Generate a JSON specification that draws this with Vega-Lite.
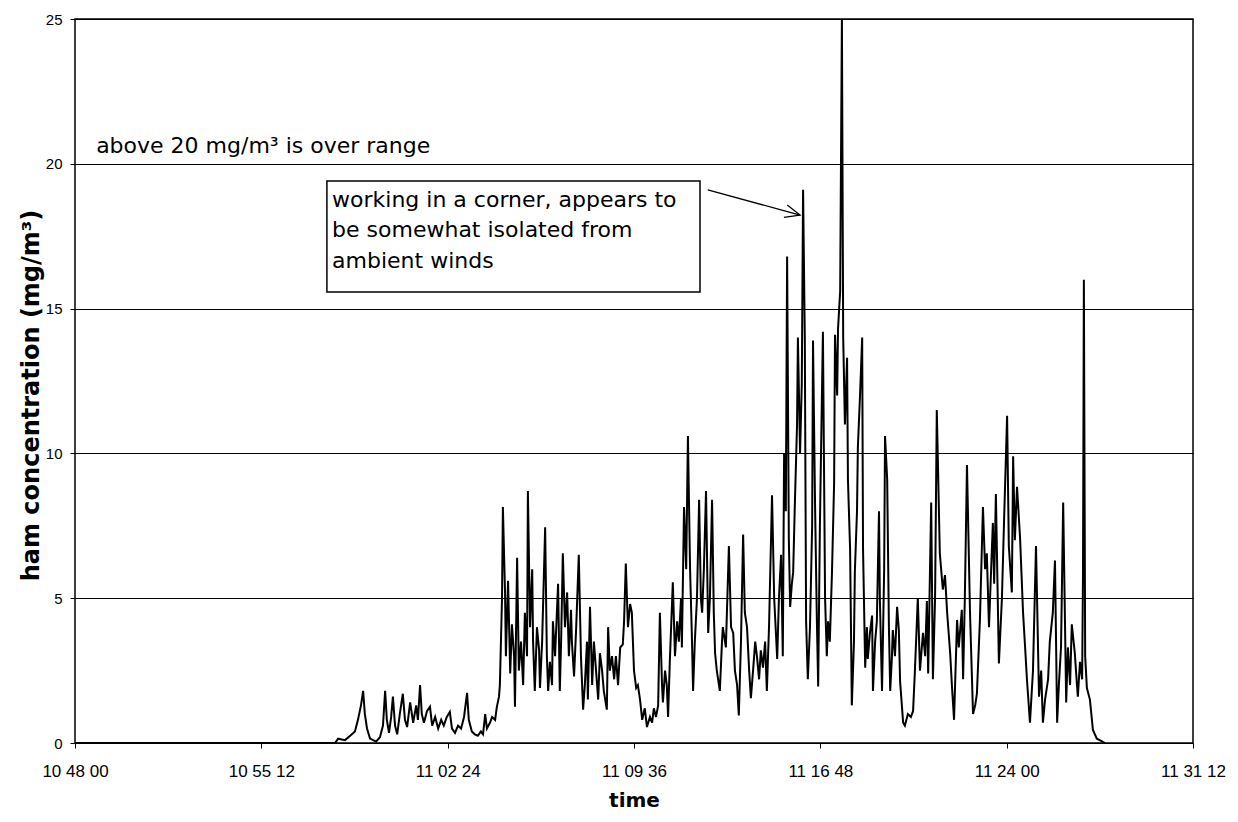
{
  "$schema": "https://vega.github.io/schema/vega-lite/v6.json",
  "width": 1118,
  "height": 724,
  "autosize": {"type": "none"},
  "padding": {"left": 75, "top": 19, "right": 45, "bottom": 79},
  "background": "white",
  "config": {
    "view": {"stroke": "black", "strokeWidth": 1.5},
    "axis": {
      "labelFont": "Liberation Sans",
      "labelColor": "black",
      "titleFont": "DejaVu Sans",
      "titleFontWeight": "bold",
      "titleColor": "black",
      "tickColor": "black",
      "domain": false,
      "labelFlush": false,
      "labelOverlap": false
    }
  },
  "datasets": {
    "readings": [
      {"seconds":0,"mg":0},{"seconds":603,"mg":0},{"seconds":610,"mg":0.15},{"seconds":626,"mg":0.1},{"seconds":638,"mg":0.25},
      {"seconds":649,"mg":0.4},{"seconds":656,"mg":0.8},{"seconds":663,"mg":1.3},{"seconds":668,"mg":1.8},{"seconds":672,"mg":1.0},
      {"seconds":677,"mg":0.5},{"seconds":684,"mg":0.15},{"seconds":698,"mg":0.05},{"seconds":707,"mg":0.2},{"seconds":714,"mg":0.6},
      {"seconds":719,"mg":1.8},{"seconds":723,"mg":0.8},{"seconds":728,"mg":0.35},{"seconds":733,"mg":0.9},{"seconds":737,"mg":1.6},
      {"seconds":742,"mg":0.6},{"seconds":747,"mg":0.3},{"seconds":753,"mg":1.0},{"seconds":760,"mg":1.7},{"seconds":765,"mg":0.8},
      {"seconds":770,"mg":0.55},{"seconds":777,"mg":1.4},{"seconds":784,"mg":0.7},{"seconds":791,"mg":1.3},{"seconds":795,"mg":0.8},
      {"seconds":800,"mg":2.0},{"seconds":804,"mg":1.0},{"seconds":809,"mg":0.7},{"seconds":816,"mg":1.1},{"seconds":823,"mg":1.25},
      {"seconds":828,"mg":0.6},{"seconds":835,"mg":0.9},{"seconds":842,"mg":0.5},{"seconds":849,"mg":0.8},{"seconds":855,"mg":0.6},
      {"seconds":862,"mg":0.9},{"seconds":869,"mg":1.07},{"seconds":874,"mg":0.5},{"seconds":881,"mg":0.35},{"seconds":888,"mg":0.6},
      {"seconds":895,"mg":0.5},{"seconds":902,"mg":0.9},{"seconds":909,"mg":1.73},{"seconds":913,"mg":0.8},{"seconds":920,"mg":0.4},
      {"seconds":927,"mg":0.3},{"seconds":934,"mg":0.25},{"seconds":941,"mg":0.4},{"seconds":946,"mg":0.3},{"seconds":951,"mg":1.0},
      {"seconds":955,"mg":0.5},{"seconds":962,"mg":0.7},{"seconds":967,"mg":0.9},{"seconds":974,"mg":0.8},{"seconds":978,"mg":1.25},
      {"seconds":983,"mg":1.6},{"seconds":985,"mg":2.0},{"seconds":990,"mg":5.0},{"seconds":992,"mg":8.15},{"seconds":997,"mg":5.2},
      {"seconds":999,"mg":3.0},{"seconds":1004,"mg":5.6},{"seconds":1009,"mg":2.4},{"seconds":1013,"mg":4.1},{"seconds":1018,"mg":3.0},
      {"seconds":1020,"mg":1.25},{"seconds":1025,"mg":6.4},{"seconds":1029,"mg":2.5},{"seconds":1034,"mg":3.5},{"seconds":1039,"mg":2.0},
      {"seconds":1043,"mg":4.5},{"seconds":1048,"mg":3.0},{"seconds":1050,"mg":8.7},{"seconds":1055,"mg":4.0},{"seconds":1060,"mg":6.0},
      {"seconds":1062,"mg":3.5},{"seconds":1066,"mg":1.8},{"seconds":1071,"mg":4.0},{"seconds":1076,"mg":3.2},{"seconds":1078,"mg":1.9},
      {"seconds":1083,"mg":3.5},{"seconds":1090,"mg":7.45},{"seconds":1094,"mg":3.0},{"seconds":1097,"mg":1.8},{"seconds":1101,"mg":2.8},
      {"seconds":1106,"mg":2.0},{"seconds":1108,"mg":4.2},{"seconds":1113,"mg":3.0},{"seconds":1120,"mg":5.5},{"seconds":1124,"mg":1.8},
      {"seconds":1127,"mg":3.5},{"seconds":1131,"mg":6.55},{"seconds":1136,"mg":4.0},{"seconds":1141,"mg":5.2},{"seconds":1145,"mg":3.0},
      {"seconds":1150,"mg":4.6},{"seconds":1152,"mg":3.5},{"seconds":1157,"mg":2.3},{"seconds":1162,"mg":4.0},{"seconds":1168,"mg":6.5},
      {"seconds":1173,"mg":3.0},{"seconds":1178,"mg":1.15},{"seconds":1182,"mg":2.0},{"seconds":1187,"mg":3.5},{"seconds":1189,"mg":1.5},
      {"seconds":1194,"mg":4.7},{"seconds":1199,"mg":2.0},{"seconds":1203,"mg":3.5},{"seconds":1208,"mg":2.5},{"seconds":1213,"mg":1.5},
      {"seconds":1217,"mg":3.1},{"seconds":1222,"mg":2.5},{"seconds":1226,"mg":1.8},{"seconds":1233,"mg":1.15},{"seconds":1236,"mg":4.0},
      {"seconds":1240,"mg":2.5},{"seconds":1245,"mg":3.0},{"seconds":1250,"mg":2.2},{"seconds":1254,"mg":3.0},{"seconds":1259,"mg":2.0},
      {"seconds":1264,"mg":3.3},{"seconds":1270,"mg":3.4},{"seconds":1273,"mg":4.2},{"seconds":1277,"mg":6.2},{"seconds":1282,"mg":4.0},
      {"seconds":1287,"mg":4.8},{"seconds":1291,"mg":4.5},{"seconds":1296,"mg":2.5},{"seconds":1301,"mg":1.9},{"seconds":1305,"mg":2.0},
      {"seconds":1310,"mg":1.5},{"seconds":1315,"mg":0.8},{"seconds":1321,"mg":1.2},{"seconds":1326,"mg":0.55},{"seconds":1333,"mg":0.9},
      {"seconds":1338,"mg":0.7},{"seconds":1342,"mg":1.2},{"seconds":1347,"mg":0.9},{"seconds":1352,"mg":1.3},{"seconds":1356,"mg":4.5},
      {"seconds":1361,"mg":2.0},{"seconds":1363,"mg":1.4},{"seconds":1368,"mg":2.5},{"seconds":1372,"mg":2.0},{"seconds":1375,"mg":0.9},
      {"seconds":1379,"mg":2.8},{"seconds":1386,"mg":5.55},{"seconds":1391,"mg":3.0},{"seconds":1396,"mg":4.2},{"seconds":1400,"mg":3.5},
      {"seconds":1405,"mg":5.0},{"seconds":1407,"mg":3.3},{"seconds":1412,"mg":8.15},{"seconds":1417,"mg":6.0},{"seconds":1421,"mg":10.6},
      {"seconds":1426,"mg":6.0},{"seconds":1430,"mg":3.8},{"seconds":1433,"mg":1.8},{"seconds":1437,"mg":3.5},{"seconds":1442,"mg":5.0},
      {"seconds":1447,"mg":8.4},{"seconds":1451,"mg":5.0},{"seconds":1454,"mg":4.5},{"seconds":1458,"mg":6.0},{"seconds":1463,"mg":8.7},
      {"seconds":1468,"mg":3.8},{"seconds":1472,"mg":5.0},{"seconds":1477,"mg":8.4},{"seconds":1481,"mg":4.5},{"seconds":1484,"mg":3.1},
      {"seconds":1488,"mg":2.5},{"seconds":1495,"mg":1.8},{"seconds":1500,"mg":3.5},{"seconds":1502,"mg":4.0},{"seconds":1509,"mg":3.3},
      {"seconds":1516,"mg":6.8},{"seconds":1521,"mg":4.0},{"seconds":1526,"mg":3.8},{"seconds":1530,"mg":2.5},{"seconds":1535,"mg":2.0},
      {"seconds":1539,"mg":0.95},{"seconds":1544,"mg":3.5},{"seconds":1549,"mg":7.2},{"seconds":1553,"mg":4.5},{"seconds":1558,"mg":4.0},
      {"seconds":1563,"mg":2.5},{"seconds":1567,"mg":1.55},{"seconds":1572,"mg":2.5},{"seconds":1577,"mg":3.5},{"seconds":1581,"mg":3.0},
      {"seconds":1586,"mg":2.2},{"seconds":1590,"mg":3.2},{"seconds":1595,"mg":2.6},{"seconds":1600,"mg":3.5},{"seconds":1604,"mg":1.8},
      {"seconds":1609,"mg":4.0},{"seconds":1616,"mg":8.55},{"seconds":1621,"mg":5.0},{"seconds":1628,"mg":2.9},{"seconds":1632,"mg":5.0},
      {"seconds":1637,"mg":6.5},{"seconds":1641,"mg":3.0},{"seconds":1644,"mg":10.0},{"seconds":1648,"mg":8.0},{"seconds":1651,"mg":16.8},
      {"seconds":1655,"mg":7.0},{"seconds":1658,"mg":4.7},{"seconds":1662,"mg":5.5},{"seconds":1665,"mg":5.9},{"seconds":1669,"mg":8.3},
      {"seconds":1674,"mg":11.0},{"seconds":1676,"mg":14.0},{"seconds":1681,"mg":10.0},{"seconds":1685,"mg":12.4},{"seconds":1688,"mg":19.1},
      {"seconds":1692,"mg":14.0},{"seconds":1695,"mg":4.2},{"seconds":1699,"mg":2.2},{"seconds":1704,"mg":4.0},{"seconds":1709,"mg":7.5},
      {"seconds":1711,"mg":13.9},{"seconds":1716,"mg":8.0},{"seconds":1720,"mg":4.2},{"seconds":1723,"mg":1.95},{"seconds":1727,"mg":7.5},
      {"seconds":1734,"mg":14.2},{"seconds":1739,"mg":5.0},{"seconds":1743,"mg":3.0},{"seconds":1746,"mg":4.2},{"seconds":1750,"mg":3.5},
      {"seconds":1755,"mg":5.9},{"seconds":1760,"mg":9.0},{"seconds":1762,"mg":14.1},{"seconds":1767,"mg":12.0},{"seconds":1769,"mg":14.3},
      {"seconds":1774,"mg":15.6},{"seconds":1778,"mg":25.0},{"seconds":1781,"mg":14.0},{"seconds":1785,"mg":11.0},{"seconds":1790,"mg":13.3},
      {"seconds":1792,"mg":9.1},{"seconds":1797,"mg":6.7},{"seconds":1801,"mg":1.3},{"seconds":1806,"mg":3.5},{"seconds":1808,"mg":5.9},
      {"seconds":1813,"mg":8.0},{"seconds":1815,"mg":10.2},{"seconds":1820,"mg":12.0},{"seconds":1825,"mg":14.0},{"seconds":1827,"mg":6.7},
      {"seconds":1832,"mg":2.6},{"seconds":1836,"mg":4.0},{"seconds":1838,"mg":2.9},{"seconds":1843,"mg":3.8},{"seconds":1848,"mg":4.4},
      {"seconds":1850,"mg":1.8},{"seconds":1855,"mg":3.5},{"seconds":1859,"mg":4.2},{"seconds":1864,"mg":8.0},{"seconds":1866,"mg":5.0},
      {"seconds":1871,"mg":1.8},{"seconds":1876,"mg":6.0},{"seconds":1878,"mg":10.6},{"seconds":1883,"mg":9.1},{"seconds":1887,"mg":4.0},
      {"seconds":1890,"mg":1.8},{"seconds":1894,"mg":3.0},{"seconds":1896,"mg":3.9},{"seconds":1901,"mg":3.0},{"seconds":1906,"mg":4.7},
      {"seconds":1910,"mg":3.9},{"seconds":1913,"mg":2.1},{"seconds":1920,"mg":0.7},{"seconds":1924,"mg":0.6},{"seconds":1931,"mg":1.0},
      {"seconds":1938,"mg":0.9},{"seconds":1943,"mg":1.1},{"seconds":1947,"mg":2.4},{"seconds":1954,"mg":5.0},{"seconds":1959,"mg":2.5},
      {"seconds":1966,"mg":3.8},{"seconds":1971,"mg":3.0},{"seconds":1975,"mg":4.9},{"seconds":1978,"mg":2.4},{"seconds":1985,"mg":8.3},
      {"seconds":1989,"mg":2.2},{"seconds":1994,"mg":5.0},{"seconds":1998,"mg":11.5},{"seconds":2005,"mg":6.55},{"seconds":2012,"mg":5.3},
      {"seconds":2017,"mg":5.8},{"seconds":2022,"mg":4.5},{"seconds":2029,"mg":3.1},{"seconds":2033,"mg":2.0},{"seconds":2038,"mg":0.8},
      {"seconds":2045,"mg":4.25},{"seconds":2049,"mg":3.3},{"seconds":2056,"mg":4.6},{"seconds":2059,"mg":2.2},{"seconds":2063,"mg":5.0},
      {"seconds":2068,"mg":9.6},{"seconds":2075,"mg":4.5},{"seconds":2082,"mg":1.0},{"seconds":2087,"mg":1.3},{"seconds":2091,"mg":1.7},
      {"seconds":2098,"mg":4.25},{"seconds":2105,"mg":8.15},{"seconds":2110,"mg":6.0},{"seconds":2114,"mg":6.55},{"seconds":2119,"mg":4.0},
      {"seconds":2124,"mg":6.0},{"seconds":2128,"mg":7.6},{"seconds":2131,"mg":5.5},{"seconds":2135,"mg":8.6},{"seconds":2142,"mg":2.75},
      {"seconds":2149,"mg":5.0},{"seconds":2154,"mg":7.7},{"seconds":2161,"mg":11.3},{"seconds":2165,"mg":6.8},{"seconds":2172,"mg":5.2},
      {"seconds":2175,"mg":9.9},{"seconds":2179,"mg":7.0},{"seconds":2184,"mg":8.85},{"seconds":2191,"mg":7.1},{"seconds":2198,"mg":4.5},
      {"seconds":2202,"mg":3.5},{"seconds":2207,"mg":2.2},{"seconds":2214,"mg":0.7},{"seconds":2221,"mg":2.5},{"seconds":2228,"mg":6.8},
      {"seconds":2235,"mg":1.6},{"seconds":2240,"mg":2.5},{"seconds":2244,"mg":0.7},{"seconds":2249,"mg":1.5},{"seconds":2256,"mg":2.2},
      {"seconds":2260,"mg":3.5},{"seconds":2267,"mg":4.5},{"seconds":2272,"mg":6.3},{"seconds":2277,"mg":0.7},{"seconds":2281,"mg":2.0},
      {"seconds":2286,"mg":3.3},{"seconds":2291,"mg":8.3},{"seconds":2298,"mg":1.4},{"seconds":2302,"mg":3.3},{"seconds":2307,"mg":2.0},
      {"seconds":2311,"mg":4.1},{"seconds":2318,"mg":3.1},{"seconds":2323,"mg":2.0},{"seconds":2325,"mg":1.6},{"seconds":2330,"mg":2.8},
      {"seconds":2335,"mg":2.2},{"seconds":2337,"mg":6.0},{"seconds":2339,"mg":16.0},{"seconds":2342,"mg":3.0},{"seconds":2346,"mg":1.9},
      {"seconds":2353,"mg":1.5},{"seconds":2360,"mg":0.45},{"seconds":2369,"mg":0.15},{"seconds":2376,"mg":0.1},{"seconds":2388,"mg":0}
    ],
    "box": [{"seconds": 584, "mg": 19.41, "seconds2": 1449, "mg2": 15.57}],
    "arrow": [{"seconds": 1467, "mg": 19.1, "seconds2": 1681, "mg2": 18.23}],
    "arrowhead": [{"seconds": 1681, "mg": 18.23}],
    "notes": [
      {"seconds": 49, "mg": 20.36, "label": "above 20 mg/m³ is over range"},
      {"seconds": 596, "mg": 18.52, "label": "working in a corner, appears to"},
      {"seconds": 596, "mg": 17.46, "label": "be somewhat isolated from"},
      {"seconds": 596, "mg": 16.39, "label": "ambient winds"}
    ]
  },
  "layer": [
    {
      "data": {"name": "readings"},
      "mark": {"type": "line", "color": "black", "strokeWidth": 2},
      "encoding": {
        "x": {
          "field": "seconds",
          "type": "quantitative",
          "scale": {"domain": [0, 2592], "nice": false, "zero": false},
          "axis": {
            "title": "time",
            "values": [0, 432, 864, 1296, 1728, 2160, 2592],
            "labelExpr": "timeFormat(datetime(2000, 0, 1, 10, 48, datum.value), '%H %M %S')",
            "grid": false,
            "tickSize": 5,
            "labelPadding": 15,
            "labelFontSize": 17,
            "titleFontSize": 20,
            "titlePadding": 11
          }
        },
        "y": {
          "field": "mg",
          "type": "quantitative",
          "scale": {"domain": [0, 25], "nice": false},
          "axis": {
            "title": "ham concentration  (mg/m³)",
            "values": [0, 5, 10, 15, 20, 25],
            "grid": true,
            "gridColor": "black",
            "gridOpacity": 1,
            "gridWidth": 1,
            "tickSize": 5,
            "labelPadding": 8,
            "labelFontSize": 15,
            "titleFontSize": 24,
            "titlePadding": 2,
            "titleY": 376
          }
        }
      }
    },
    {
      "data": {"name": "box"},
      "mark": {"type": "rect", "fill": "white", "stroke": "black", "strokeWidth": 1.5},
      "encoding": {
        "x": {"field": "seconds", "type": "quantitative"},
        "x2": {"field": "seconds2"},
        "y": {"field": "mg", "type": "quantitative"},
        "y2": {"field": "mg2"}
      }
    },
    {
      "data": {"name": "arrow"},
      "mark": {"type": "rule", "color": "black", "strokeWidth": 1.3},
      "encoding": {
        "x": {"field": "seconds", "type": "quantitative"},
        "x2": {"field": "seconds2"},
        "y": {"field": "mg", "type": "quantitative"},
        "y2": {"field": "mg2"}
      }
    },
    {
      "data": {"name": "arrowhead"},
      "mark": {"type": "point", "shape": "M-1,-0.43L0,0L-1,0.43", "filled": false, "stroke": "black", "strokeWidth": 1.3, "size": 900, "angle": 15, "opacity": 1},
      "encoding": {
        "x": {"field": "seconds", "type": "quantitative"},
        "y": {"field": "mg", "type": "quantitative"}
      }
    },
    {
      "data": {"name": "notes"},
      "mark": {"type": "text", "align": "left", "baseline": "alphabetic", "font": "DejaVu Sans", "fontSize": 22, "color": "black"},
      "encoding": {
        "x": {"field": "seconds", "type": "quantitative"},
        "y": {"field": "mg", "type": "quantitative"},
        "text": {"field": "label"}
      }
    }
  ]
}
